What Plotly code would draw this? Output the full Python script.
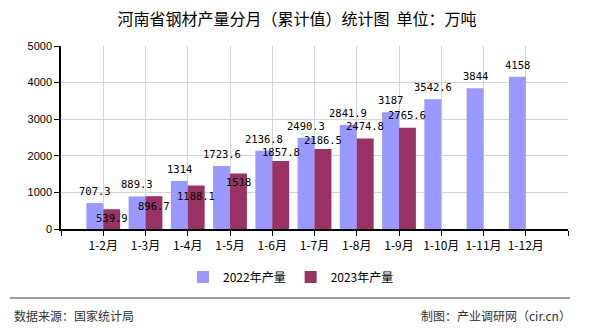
import plotly.graph_objects as go

# 河南省钢材产量（累计值，万吨）
categories = ["1-2月", "1-3月", "1-4月", "1-5月", "1-6月", "1-7月",
              "1-8月", "1-9月", "1-10月", "1-11月", "1-12月"]
output_2022 = [707.3, 889.3, 1314, 1723.6, 2136.8, 2490.3,
               2841.9, 3187, 3542.6, 3844, 4158]
output_2023 = [539.9, 896.7, 1188.1, 1518, 1857.8, 2186.5,
               2474.8, 2765.6]
series_names = ["2022年产量", "2023年产量"]
y_ticks = [0, 1000, 2000, 3000, 4000, 5000]

# label offsets in pixels (positive = above the bar top)
label_shift_2022 = 12
label_shift_2023 = [-9, -10, -10, -9, 9, 9, 12, 13]

W, H = 590, 330
L, R, T, B = 61, 22, 46, 101
PW, PH = W - L - R, H - T - B

def px_x(x):
    return (x - L) / PW

def px_y(y):
    return (H - B - y) / PH

BLUE = "#9999FF"
RED = "#993366"
CJK = "Noto Sans CJK SC, sans-serif"
MONO = "DejaVu Sans Mono, monospace"

xs = list(range(len(categories)))

fig = go.Figure()
fig.add_trace(go.Bar(x=xs, y=output_2022, name=series_names[0],
                     marker=dict(color=BLUE, line=dict(width=0))))
fig.add_trace(go.Bar(x=xs[:len(output_2023)], y=output_2023, name=series_names[1],
                     marker=dict(color=RED, line=dict(width=0))))

annotations = []
for i, v in enumerate(output_2022):
    annotations.append(dict(x=i - 0.2, y=v, xref="x", yref="y", text=f"{v:g}",
                            showarrow=False, yshift=label_shift_2022,
                            yanchor="middle", xanchor="center",
                            font=dict(family=MONO, size=10.5, color="#000")))
for i, v in enumerate(output_2023):
    annotations.append(dict(x=i + 0.2, y=v, xref="x", yref="y", text=f"{v:g}",
                            showarrow=False, yshift=label_shift_2023[i],
                            yanchor="middle", xanchor="center",
                            font=dict(family=MONO, size=10.5, color="#000")))

# footer texts
annotations.append(dict(x=px_x(12), y=px_y(315), xref="paper", yref="paper",
                        text="数据来源：国家统计局", showarrow=False,
                        xanchor="left", yanchor="middle",
                        font=dict(family=CJK, size=12, color="#333")))
annotations.append(dict(x=px_x(573), y=px_y(315), xref="paper", yref="paper",
                        text="制图：产业调研网（cir.cn）", showarrow=False,
                        xanchor="right", yanchor="middle",
                        font=dict(family=CJK, size=12, color="#333")))

shapes = [dict(type="line", xref="paper", yref="paper",
               x0=px_x(10), x1=px_x(570), y0=px_y(298), y1=px_y(298),
               line=dict(color="#808080", width=1.5))]

fig.update_layout(
    width=W, height=H,
    margin=dict(l=L, r=R, t=T, b=B, autoexpand=False),
    paper_bgcolor="white", plot_bgcolor="white",
    barmode="group", bargap=0.2, bargroupgap=0,
    title=dict(text="河南省钢材产量分月（累计值）统计图  单位：万吨",
               x=297 / W, xref="container", xanchor="center",
               y=1 - 19 / H, yref="container", yanchor="middle",
               font=dict(family=CJK, size=16, color="#000")),
    xaxis=dict(range=[-1, len(categories)],
               tickmode="array",
               tickvals=list(range(-1, len(categories) + 1)),
               ticktext=[""] + categories + [""],
               showgrid=True, gridcolor="#d4d4d4", gridwidth=1,
               showline=True, linecolor="#000", linewidth=1.5,
               ticks="outside", ticklen=5, tickcolor="#000",
               tickfont=dict(family=CJK, size=12, color="#000"),
               zeroline=False, fixedrange=True),
    yaxis=dict(range=[0, 5000], tickmode="array", tickvals=y_ticks,
               showgrid=True, gridcolor="#d4d4d4", gridwidth=1,
               showline=True, linecolor="#000", linewidth=1.5,
               ticks="outside", ticklen=5, tickcolor="#000",
               tickfont=dict(family="Liberation Sans, Arial, sans-serif",
                             size=11, color="#000"),
               zeroline=False, fixedrange=True),
    legend=dict(orientation="h", x=px_x(291), xanchor="center",
                y=px_y(277), yanchor="middle",
                font=dict(family=CJK, size=12, color="#000"),
                itemwidth=30, bgcolor="rgba(0,0,0,0)"),
    annotations=annotations,
    shapes=shapes,
)

fig.write_html("out.html")
